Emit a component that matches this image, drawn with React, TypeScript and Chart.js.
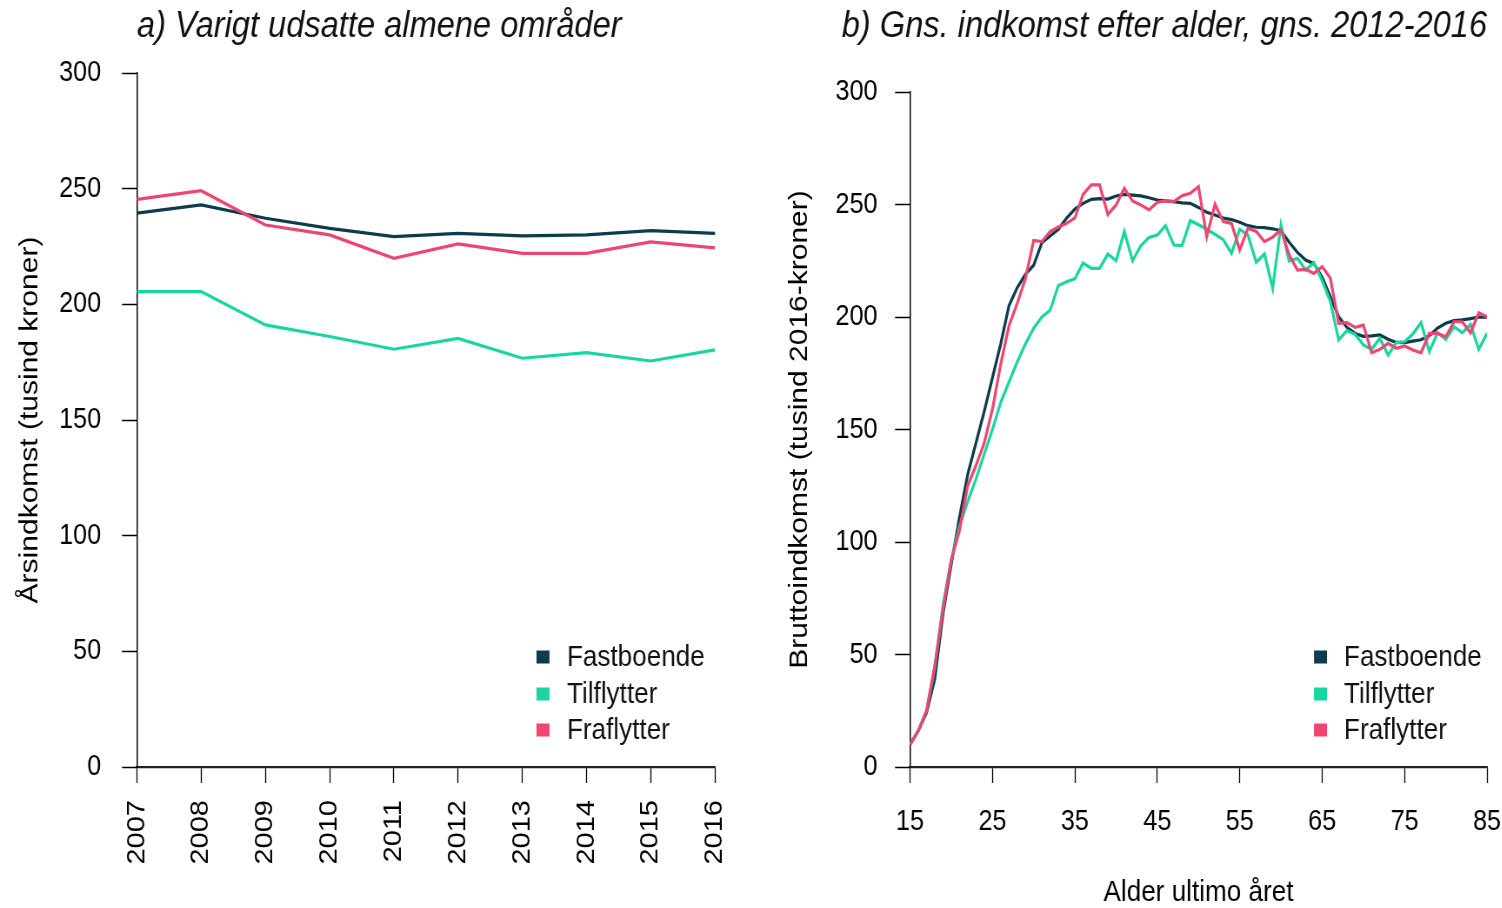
import React, { useEffect, useRef } from "react";
import { Chart, registerables } from "chart.js";

Chart.register(...registerables);

// ---------- Data ----------
const years = ["2007", "2008", "2009", "2010", "2011", "2012", "2013", "2014", "2015", "2016"];
const yearFastboende = [239.4, 243, 237.2, 232.8, 229.3, 230.7, 229.6, 230, 231.9, 230.7];
const yearTilflytter = [205.5, 205.5, 191.1, 186.1, 180.6, 185.3, 176.7, 179.1, 175.5, 180.3];
const yearFraflytter = [245.4, 249.1, 234.3, 230, 219.9, 226.1, 222, 222, 227, 224.4];

const ages = [
  15, 16, 17, 18, 19, 20, 21, 22, 23, 24, 25, 26, 27, 28, 29, 30, 31, 32, 33, 34, 35,
  36, 37, 38, 39, 40, 41, 42, 43, 44, 45, 46, 47, 48, 49, 50, 51, 52, 53, 54, 55,
  56, 57, 58, 59, 60, 61, 62, 63, 64, 65, 66, 67, 68, 69, 70, 71, 72, 73, 74, 75,
  76, 77, 78, 79, 80, 81, 82, 83, 84, 85,
];
const ageFastboende = [
  10, 16, 24, 39, 68, 90, 111, 130, 144, 158, 173, 188, 205, 213, 219, 223, 233, 236, 239, 244, 248,
  250.5, 252.3, 252.6, 252.4, 253.8, 254.5, 254.2, 253.8, 253, 252, 251.6, 251.3, 250.7, 250.5, 248.7, 246.5, 245.3, 244, 243.3, 242.1,
  240.6, 239.9, 239.7, 239.2, 238.4, 233.2, 228.7, 225.3, 223.7, 217.6, 209, 200.1, 195.4, 192.7, 191.4, 191.6, 192, 190.1, 188.7, 188.6,
  189.3, 189.9, 191.7, 195.1, 197.2, 198.4, 198.7, 199.3, 200, 199.9,
];
const ageTilflytter = [
  10, 16, 25, 44, 72, 92, 107, 118, 128, 139, 150, 162, 171, 180, 188, 195, 200, 203, 214, 215.7, 217,
  224, 221.6, 221.6, 228, 225, 238, 225, 231.7, 235.4, 236.4, 240.6, 232, 231.7, 242.8, 241, 239, 236.7, 234.4, 228.3, 239,
  236.4, 224.3, 228, 212.8, 240.9, 224.9, 226.1, 220.9, 224.1, 216.1, 206.8, 189.8, 193.9, 192.3, 187.6, 185.6, 190.5, 183.1, 188.6, 189,
  192.4, 197.5, 184.6, 193, 190.1, 195.7, 193, 196.7, 185.6, 192.7,
];
const ageFraflytter = [
  10, 16, 25, 45, 70, 92, 105, 125, 134, 144, 159, 179, 196, 206, 217, 234, 233.5, 238, 240, 241.6, 244,
  254.5, 258.7, 258.7, 245.6, 249.8, 257.2, 251.6, 249.8, 247.6, 251, 251.6, 251.3, 253.9, 255, 257.9, 235.7, 250.1, 242.4, 241.6, 229.8,
  239.4, 238, 233.5, 235.5, 238.7, 227.6, 220.9, 221.2, 219.4, 222.4, 217.2, 197.2, 197.5, 195.4, 196.4, 184.1, 185.6, 188.3, 186.1, 187.1,
  185.3, 184.1, 192.7, 192.7, 191.2, 197.9, 197.9, 193, 201.9, 200.1,
];

const incomeTicks = [0, 50, 100, 150, 200, 250, 300];
const ageTicks = [15, 25, 35, 45, 55, 65, 75, 85];

const seriesNames = ["Fastboende", "Tilflytter", "Fraflytter"];
const seriesColors = ["#0d3b4f", "#19d6a0", "#ee4670"];

// ---------- Styling / layout ----------
const FONT = '"Liberation Sans", Arial, Helvetica, sans-serif';
const SQUASH = 0.87; // horizontal compression of the rendering
const PAGE_W = 1502;
const PAGE_H = 908;

Chart.defaults.font.family = FONT;
Chart.defaults.color = "#000";

const cornerLegend = {
  id: "cornerLegend",
  afterDatasetsDraw(chart: any, _args: any, opts: any) {
    const { ctx, chartArea } = chart;
    const r = opts.ratio;
    ctx.save();
    ctx.font = `${opts.fontSize}px ${FONT}`;
    ctx.textBaseline = "middle";
    ctx.textAlign = "left";
    chart.data.datasets.forEach((ds: any, i: number) => {
      const yc = chartArea.bottom - opts.rows[i];
      const sq = opts.square;
      const xc = chartArea.right - opts.squareFromRight / r;
      ctx.fillStyle = ds.borderColor;
      ctx.fillRect(xc - sq / r / 2, yc - sq / 2, sq / r, sq);
      ctx.fillStyle = "#111";
      ctx.fillText(ds.label, chartArea.right - opts.textFromRight / r, yc + 1);
    });
    ctx.restore();
  },
};

type Panel = {
  cssLeft: number;
  cssWidth: number;
  plotLeft: number;
  plotRight: number;
  plotTop: number;
  plotBottom: number;
  yTitleCenter: number;
};

function buildConfig(kind: "year" | "age", p: Panel, W: number) {
  const r = p.cssWidth / W;
  const yScaleWidth = (p.plotLeft - p.cssLeft) / r;
  const rightPad = W - (p.plotRight - p.cssLeft) / r;
  const titleSize = 37.5;
  const titleLH = titleSize * 1.2;
  const titleTop = 4.5;
  const titleBottom = p.plotTop - titleLH - titleTop;

  const values = kind === "year"
    ? [yearFastboende, yearTilflytter, yearFraflytter]
    : [ageFastboende, ageTilflytter, ageFraflytter];

  const datasets = seriesNames.map((name, i) => ({
    label: name,
    data: kind === "year"
      ? values[i]
      : ages.map((a, j) => ({ x: a, y: values[i][j] })),
    borderColor: seriesColors[i],
    backgroundColor: seriesColors[i],
    borderWidth: 3.2,
    pointRadius: 0,
    tension: 0,
    fill: false,
    order: 3 - i,
  }));

  const yScale: any = {
    min: 0,
    max: 300,
    afterBuildTicks: (s: any) => {
      s.ticks = incomeTicks.map((v) => ({ value: v }));
    },
    afterFit: (s: any) => {
      s.width = yScaleWidth;
    },
    border: { display: true, color: "#000", width: 1.5 },
    grid: {
      drawOnChartArea: false,
      drawTicks: true,
      tickLength: 15 / r,
      tickColor: "#000",
      tickWidth: 1.5,
    },
    ticks: {
      padding: kind === "year" ? 24 : 20,
      font: { size: 29 },
      color: "#000",
    },
    title: {
      display: true,
      text: kind === "year" ? "Årsindkomst (tusind kroner)" : "Bruttoindkomst (tusind 2016-kroner)",
      font: { size: 30 },
      color: "#000",
      padding: { top: (p.yTitleCenter - p.cssLeft) / r - 18, bottom: 0 },
    },
  };

  const xCommon: any = {
    afterFit: (s: any) => {
      s.height = PAGE_H - p.plotBottom;
    },
    border: { display: true, color: "#222", width: 2.2 },
    grid: {
      drawOnChartArea: false,
      drawTicks: true,
      tickLength: 16,
      tickColor: "#000",
      tickWidth: 1.3,
    },
  };

  const xScale: any = kind === "year"
    ? {
        ...xCommon,
        type: "category",
        labels: years,
        offset: false,
        ticks: { minRotation: 90, maxRotation: 90, padding: 17, font: { size: 29 }, color: "#000", autoSkip: false },
      }
    : {
        ...xCommon,
        type: "linear",
        min: 15,
        max: 85,
        afterBuildTicks: (s: any) => {
          s.ticks = ageTicks.map((v) => ({ value: v }));
        },
        ticks: { minRotation: 0, maxRotation: 0, padding: 22, font: { size: 29 }, color: "#000", autoSkip: false },
        title: {
          display: true,
          text: "Alder ultimo året",
          font: { size: 30, lineHeight: 1 },
          color: "#000",
          padding: { top: 0, bottom: 0 },
        },
      };

  return {
    type: "line" as const,
    data: kind === "year" ? { labels: years, datasets } : { datasets },
    options: {
      responsive: false,
      animation: false as const,
      devicePixelRatio: 1,
      layout: { padding: { left: 0, right: rightPad, top: 0, bottom: 0 } },
      scales: { x: xScale, y: yScale },
      plugins: {
        legend: { display: false },
        tooltip: { enabled: false },
        title: {
          display: true,
          text: kind === "year" ? "a) Varigt udsatte almene områder" : "b) Gns. indkomst efter alder, gns. 2012-2016",
          align: kind === "year" ? "start" : "end",
          fullSize: kind !== "year",
          color: "#111",
          font: { size: titleSize, style: "italic", weight: "normal", lineHeight: 1.2 },
          padding: { top: titleTop, bottom: titleBottom },
        },
        cornerLegend: {
          ratio: r,
          fontSize: 30,
          square: 13,
          rows: [110, 73, 37],
          squareFromRight: kind === "year" ? 172 : 166.5,
          textFromRight: kind === "year" ? 148 : 143,
        },
      },
    },
    plugins: [cornerLegend],
  };
}

const leftPanel: Panel = { cssLeft: 0, cssWidth: 760, plotLeft: 137, plotRight: 719, plotTop: 73, plotBottom: 767, yTitleCenter: 30 };
const rightPanel: Panel = { cssLeft: 760, cssWidth: 780, plotLeft: 910, plotRight: 1487, plotTop: 92, plotBottom: 767, yTitleCenter: 800 };

const leftW = Math.round(leftPanel.cssWidth / SQUASH);
const rightW = Math.round(rightPanel.cssWidth / SQUASH);

export default function App() {
  const leftRef = useRef<HTMLCanvasElement | null>(null);
  const rightRef = useRef<HTMLCanvasElement | null>(null);

  useEffect(() => {
    const charts: Chart[] = [];
    if (leftRef.current) {
      charts.push(new Chart(leftRef.current, buildConfig("year", leftPanel, leftW) as any));
    }
    if (rightRef.current) {
      charts.push(new Chart(rightRef.current, buildConfig("age", rightPanel, rightW) as any));
    }
    return () => charts.forEach((c) => c.destroy());
  }, []);

  return (
    <div style={{ position: "fixed", left: 0, top: 0, width: PAGE_W, height: PAGE_H, background: "#fff", overflow: "hidden" }}>
      <canvas
        ref={leftRef}
        width={leftW}
        height={PAGE_H}
        style={{ position: "absolute", left: leftPanel.cssLeft, top: 0, width: `${leftPanel.cssWidth}px`, height: `${PAGE_H}px` }}
      />
      <canvas
        ref={rightRef}
        width={rightW}
        height={PAGE_H}
        style={{ position: "absolute", left: rightPanel.cssLeft, top: 0, width: `${rightPanel.cssWidth}px`, height: `${PAGE_H}px` }}
      />
    </div>
  );
}
